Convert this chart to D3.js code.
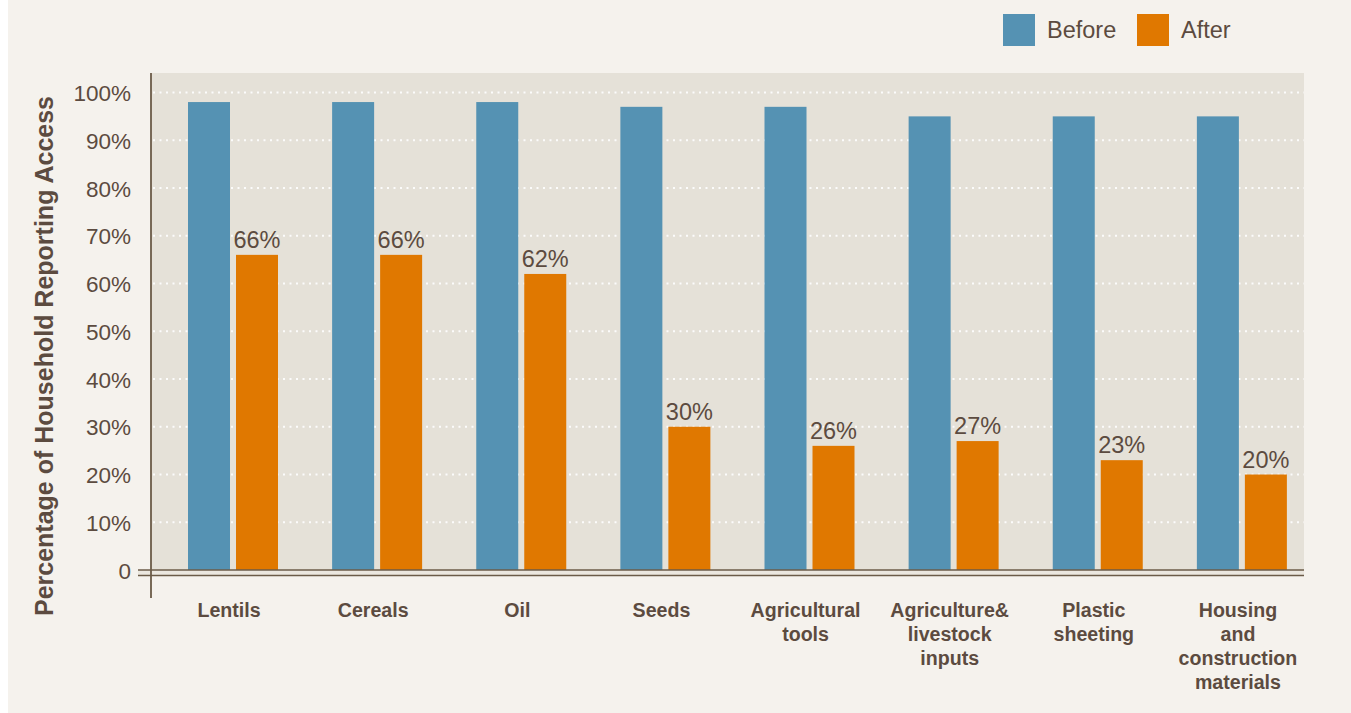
<!DOCTYPE html>
<html>
<head>
<meta charset="utf-8">
<script src="https://cdn.jsdelivr.net/npm/d3@7"></script>
<style>
  body { margin: 0; background: #ffffff; }
  text { font-family: "Liberation Sans", Arial, sans-serif; }
</style>
</head>
<body>
<svg id="chart"></svg>
<script>
// chart values
var categories = ["Lentils", "Cereals", "Oil", "Seeds", "Agricultural tools",
                  "Agriculture& livestock inputs", "Plastic sheeting", "Housing and construction materials"];
var categoryLines = [["Lentils"], ["Cereals"], ["Oil"], ["Seeds"], ["Agricultural", "tools"],
                     ["Agriculture&", "livestock", "inputs"], ["Plastic", "sheeting"],
                     ["Housing", "and", "construction", "materials"]];
var beforeValues = [98, 98, 98, 97, 97, 95, 95, 95];
var afterValues = [66, 66, 62, 30, 26, 27, 23, 20];
var seriesNames = ["Before", "After"];
var yTicks = [0, 10, 20, 30, 40, 50, 60, 70, 80, 90, 100];
var yTitle = "Percentage of Household Reporting Access";

var svgW = 1351;
var svgH = 713;

var plotLeft = 151, plotRight = 1304, plotTop = 73, plotBottom = 575;

var colors = { Before: "#5592b3", After: "#e07800" };
var textColor = "#5c4b40";
var axisColor = "#6b5b48";

var svg = d3.select("#chart")
  .attr("width", svgW)
  .attr("height", svgH);

// page background
svg.append("rect")
  .attr("x", 8).attr("y", 0)
  .attr("width", svgW - 8).attr("height", svgH)
  .attr("fill", "#f5f2ed");

// plot area
svg.append("rect")
  .attr("x", plotLeft).attr("y", plotTop)
  .attr("width", plotRight - plotLeft).attr("height", plotBottom - plotTop)
  .attr("fill", "#e5e1d8");

var x0 = d3.scaleBand()
  .domain(categories)
  .range([plotLeft, plotRight])
  .paddingInner(0).paddingOuter(0);

var x1 = d3.scaleBand()
  .domain(seriesNames)
  .range([37, 127])
  .paddingInner(0.125);

var y = d3.scaleLinear()
  .domain([0, 100])
  .range([570, 92.5]);

// dotted gridlines
svg.append("g")
  .selectAll("line")
  .data(yTicks.filter(function(d){ return d > 0; }))
  .enter()
  .append("line")
    .attr("x1", plotLeft + 2)
    .attr("x2", plotRight)
    .attr("y1", function(d){ return y(d); })
    .attr("y2", function(d){ return y(d); })
    .attr("stroke", "#ffffff")
    .attr("stroke-width", 2)
    .attr("stroke-dasharray", "2,4.5")
    .attr("opacity", 0.9);

// bars
var rows = categories.map(function(c, i){
  return { cat: c, Before: beforeValues[i], After: afterValues[i] };
});

var groups = svg.append("g")
  .selectAll("g")
  .data(rows)
  .enter()
  .append("g")
    .attr("transform", function(d){ return "translate(" + x0(d.cat) + ",0)"; });

groups.selectAll("rect")
  .data(function(d){
    return seriesNames.map(function(s){ return { key: s, value: d[s] }; });
  })
  .enter()
  .append("rect")
    .attr("x", function(d){ return x1(d.key); })
    .attr("width", x1.bandwidth())
    .attr("y", function(d){ return y(d.value); })
    .attr("height", function(d){ return y(0) - y(d.value); })
    .attr("fill", function(d){ return colors[d.key]; });

// value labels on After bars
groups.append("text")
  .attr("x", function(){ return x1("After") + x1.bandwidth() / 2; })
  .attr("y", function(d){ return y(d.After) - 7; })
  .attr("text-anchor", "middle")
  .attr("font-size", "23.5px")
  .attr("fill", textColor)
  .text(function(d){ return d.After + "%"; });

// zero double line
svg.append("rect")
  .attr("x", 138).attr("y", 570)
  .attr("width", plotRight - 138).attr("height", 5.5)
  .attr("fill", "#ebe7df");
[570, 575.5].forEach(function(yy){
  svg.append("line")
    .attr("x1", 138).attr("x2", plotRight)
    .attr("y1", yy).attr("y2", yy)
    .attr("stroke", axisColor)
    .attr("stroke-width", 1.6);
});

// y axis line
svg.append("line")
  .attr("x1", 151).attr("x2", 151)
  .attr("y1", plotTop).attr("y2", 598)
  .attr("stroke", axisColor)
  .attr("stroke-width", 1.8);

// y tick labels
var yAxis = d3.axisLeft(y)
  .tickValues(yTicks)
  .tickSize(0)
  .tickPadding(0)
  .tickFormat(function(d){ return d === 0 ? "0" : d + "%"; });

var ya = svg.append("g")
  .attr("transform", "translate(131,0)")
  .call(yAxis);
ya.select(".domain").remove();
ya.selectAll("text")
  .attr("font-size", "22.5px")
  .attr("font-family", "Liberation Sans, Arial, sans-serif")
  .attr("fill", textColor)
  .attr("dy", "0.36em");

// category labels
var catLabels = svg.append("g")
  .selectAll("text")
  .data(categories)
  .enter()
  .append("text")
    .attr("x", function(d){ return x0(d) + x0.bandwidth() / 2 + 6; })
    .attr("y", 617)
    .attr("text-anchor", "middle")
    .attr("font-size", "19.6px")
    .attr("font-weight", "bold")
    .attr("fill", textColor);

catLabels.selectAll("tspan")
  .data(function(d, i){ return categoryLines[i]; })
  .enter()
  .append("tspan")
    .attr("x", function(){ var c = d3.select(this.parentNode).datum(); return x0(c) + x0.bandwidth() / 2 + 6; })
    .attr("dy", function(d, i){ return i === 0 ? 0 : 24; })
    .text(function(d){ return d; });

// y title
svg.append("text")
  .attr("transform", "translate(53,356) rotate(-90)")
  .attr("text-anchor", "middle")
  .attr("font-size", "25px")
  .attr("font-weight", "bold")
  .attr("fill", textColor)
  .text(yTitle);

// legend
var legendX = { Before: 1003, After: 1137 };
var legend = svg.append("g")
  .selectAll("g")
  .data(seriesNames)
  .enter()
  .append("g")
    .attr("transform", function(d){ return "translate(" + legendX[d] + ",14)"; });

legend.append("rect")
  .attr("width", 32).attr("height", 32)
  .attr("fill", function(d){ return colors[d]; });

legend.append("text")
  .attr("x", 44)
  .attr("y", 24)
  .attr("font-size", "23.5px")
  .attr("fill", textColor)
  .text(function(d){ return d; });
</script>
</body>
</html>
